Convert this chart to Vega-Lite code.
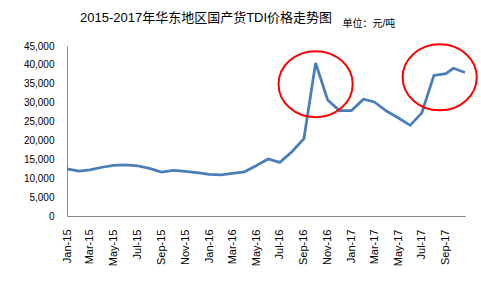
{
  "$schema": "https://vega.github.io/schema/vega-lite/v6.json",
  "width": 398,
  "height": 170,
  "autosize": "none",
  "padding": {"left": 67, "top": 46, "right": 16, "bottom": 73},
  "background": "white",
  "config": {
    "view": {"stroke": null},
    "font": "Liberation Sans, Noto Sans CJK SC",
    "axis": {"grid": false, "labelFont": "Liberation Sans, Noto Sans CJK SC", "labelColor": "#000000", "domainColor": "#868686", "domainWidth": 1, "ticks": false}
  },
  "title": {
    "text": "2015-2017年华东地区国产货TDI价格走势图",
    "font": "Liberation Sans, Noto Sans CJK SC",
    "fontSize": 13,
    "fontWeight": "normal",
    "color": "#000000",
    "anchor": "start",
    "frame": "group",
    "dx": 13,
    "baseline": "alphabetic",
    "offset": -17
  },
  "datasets": {
    "price": [
      {"date": "2015/01/01", "value": 12500},
      {"date": "2015/02/01", "value": 11900},
      {"date": "2015/03/01", "value": 12200},
      {"date": "2015/04/01", "value": 12900},
      {"date": "2015/05/01", "value": 13400},
      {"date": "2015/06/01", "value": 13500},
      {"date": "2015/07/01", "value": 13300},
      {"date": "2015/08/01", "value": 12600},
      {"date": "2015/09/01", "value": 11600},
      {"date": "2015/10/01", "value": 12100},
      {"date": "2015/11/01", "value": 11800},
      {"date": "2015/12/01", "value": 11500},
      {"date": "2016/01/01", "value": 11000},
      {"date": "2016/02/01", "value": 10900},
      {"date": "2016/03/01", "value": 11300},
      {"date": "2016/04/01", "value": 11700},
      {"date": "2016/05/01", "value": 13300},
      {"date": "2016/06/01", "value": 15100},
      {"date": "2016/07/01", "value": 14200},
      {"date": "2016/08/01", "value": 17000},
      {"date": "2016/09/01", "value": 20500},
      {"date": "2016/10/01", "value": 40500},
      {"date": "2016/11/01", "value": 30700},
      {"date": "2016/12/01", "value": 27900},
      {"date": "2017/01/01", "value": 27900},
      {"date": "2017/02/01", "value": 30900},
      {"date": "2017/03/01", "value": 30200},
      {"date": "2017/04/01", "value": 27800},
      {"date": "2017/05/01", "value": 26000},
      {"date": "2017/06/01", "value": 24000},
      {"date": "2017/07/01", "value": 27300},
      {"date": "2017/08/01", "value": 37200},
      {"date": "2017/09/01", "value": 37700},
      {"date": "2017/09/20", "value": 39100},
      {"date": "2017/10/20", "value": 38000}
    ],
    "highlights": [
      {"date": "2016/10/01", "value": 34900},
      {"date": "2017/08/16", "value": 36700}
    ]
  },
  "encoding": {
    "x": {
      "field": "date",
      "type": "temporal",
      "scale": {"domain": [{"year": 2015, "month": 1, "date": 1}, {"year": 2017, "month": 10, "date": 20}]},
      "axis": {
        "title": null,
        "format": "%b-%y",
        "tickCount": {"interval": "month", "step": 2},
        "labelAngle": 270,
        "labelFontSize": 11,
        "labelPadding": 13,
        "labelOverlap": false,
        "labelFlush": false
      }
    },
    "y": {
      "field": "value",
      "type": "quantitative",
      "scale": {"domain": [0, 45000], "nice": false},
      "axis": {
        "values": [0, 5000, 10000, 15000, 20000, 25000, 30000, 35000, 40000, 45000],
        "format": ",d",
        "labelFontSize": 10,
        "labelPadding": 13,
        "labelOverlap": false,
        "labelFlush": false,
        "title": "单位：元/吨",
        "titleAngle": 0,
        "titleX": 275,
        "titleY": -20,
        "titleAlign": "left",
        "titleBaseline": "alphabetic",
        "titleFontSize": 10,
        "titleFontWeight": "normal",
        "titleColor": "#000000",
        "titleFont": "Liberation Sans, Noto Sans CJK SC"
      }
    }
  },
  "layer": [
    {
      "data": {"name": "price"},
      "mark": {"type": "line", "color": "#4a7ebb", "strokeWidth": 2.75, "clip": false}
    },
    {
      "data": {"name": "highlights"},
      "mark": {
        "type": "point",
        "shape": "M-1,0A1,0.89 0 1,1 1,0A1,0.89 0 1,1 -1,0Z",
        "size": 5500,
        "filled": false,
        "stroke": "#ff0000",
        "strokeWidth": 2,
        "opacity": 1,
        "clip": false
      }
    }
  ]
}
